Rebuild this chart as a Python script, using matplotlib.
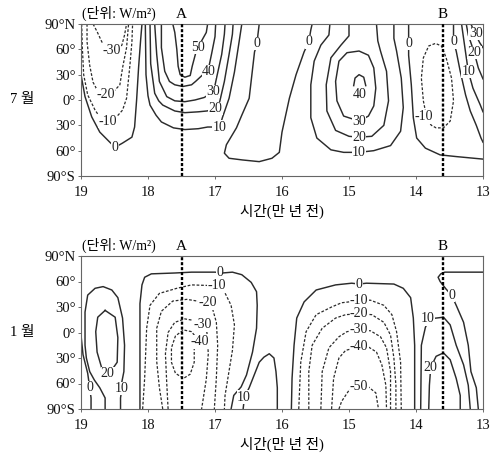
import matplotlib
matplotlib.use("Agg")
import matplotlib.pyplot as plt

plt.rcParams['font.family'] = ['Liberation Serif', 'Noto Sans CJK KR']

# time axis: 10^4 years ago, latitude axis: degrees (N positive)
time_ticks = [19, 18, 17, 16, 15, 14, 13]
lat_ticks = [-90, -60, -30, 0, 30, 60, 90]
lat_labels = ['90°S', '60°', '30°', '0°', '30°', '60°', '90°N']
marker_a = 17.5
marker_b = 13.6

# ---- July contours (time, latitude) ----
jul_m30 = ([18.82, 18.76, 18.69, 18.64, 18.54, 18.45, 18.39, 18.35, 18.32],
           [90, 81, 69, 62, 58, 60, 65, 77, 90])
jul_m20 = ([18.91, 18.91, 18.87, 18.82, 18.76, 18.63, 18.49, 18.42, 18.38, 18.32, 18.30, 18.29],
           [90, 69, 41, 21, 12, 6, 12, 18, 38, 62, 81, 90])
jul_m10 = ([18.99, 18.98, 18.96, 18.90, 18.79, 18.72, 18.60, 18.47, 18.38, 18.32, 18.27, 18.24, 18.23],
           [90, 62, 30, 6, -12, -20, -25, -20, -12, 2, 41, 69, 90])
jul_0a = ([19.0, 18.94, 18.84, 18.72, 18.57, 18.49, 18.38, 18.24, 18.20, 18.17, 18.14, 18.11, 18.09],
          [30, 4, -20, -38, -50, -56, -51, -44, -32, 0, 39, 71, 90])
jul_p10a = ([18.04, 18.03, 18.00, 17.97, 17.88, 17.80, 17.62, 17.45, 17.25, 17.11, 16.93, 16.89, 16.79, 16.71, 16.64, 16.60],
            [90, 30, 5, -6, -18, -26, -33, -35, -34, -32, -32, -21, 2, 33, 69, 90])
jul_p20a = ([17.97, 17.96, 17.90, 17.84, 17.78, 17.60, 17.45, 17.25, 17.12, 16.98, 16.93, 16.86, 16.79, 16.74, 16.73],
            [90, 43, 8, -1, -6, -13, -15, -14, -13, -10, -2, 22, 54, 78, 90])
jul_p30a = ([17.90, 17.87, 17.83, 17.72, 17.60, 17.45, 17.30, 17.16, 17.02, 16.98, 16.90, 16.86, 16.85],
            [90, 54, 22, 4, -1, -2, 0, 3, 10, 25, 54, 78, 90])
jul_p40a = ([17.80, 17.80, 17.75, 17.68, 17.60, 17.48, 17.35, 17.29, 17.10, 17.05, 17.00, 16.99],
            [90, 62, 34, 22, 18, 16, 18, 22, 36, 55, 75, 90])
jul_p50a = ([17.63, 17.60, 17.57, 17.55, 17.52, 17.45, 17.37, 17.34, 17.28, 17.20, 17.13, 17.11],
            [90, 80, 60, 40, 30, 27, 29, 40, 58, 70, 80, 90])
jul_0b = ([16.34, 16.36, 16.37, 16.41, 16.49, 16.60, 16.68, 16.83, 16.86, 16.79, 16.59, 16.34,
           16.15, 16.04, 16.00, 15.89, 15.79, 15.67, 15.60, 15.57, 15.55],
          [90, 77, 67, 57, 2, -18, -33, -53, -63, -69, -71, -73, -69, -62, -38, 2, 30, 57, 69, 83, 90])
jul_p10b = ([15.285, 15.30, 15.42, 15.52, 15.57, 15.57, 15.48, 15.27, 15.08, 14.85, 14.63, 14.38,
             14.23, 14.19, 14.22, 14.29, 14.33, 14.33],
            [90, 77, 65, 46, 18, -21, -45, -59, -62, -62, -60, -54, -37, -9, 26, 58, 73, 90])
jul_p20b = ([15.0, 15.0, 15.12, 15.27, 15.34, 15.33, 15.20, 15.0, 14.85, 14.66, 14.48, 14.41, 14.44, 14.53, 14.57, 14.59],
            [90, 76, 65, 50, 18, -13, -36, -43, -44, -43, -30, -1, 34, 58, 70, 90])
jul_p30b = ([14.85, 15.08, 15.18, 15.20, 15.15, 15.03, 14.85, 14.71, 14.63, 14.60, 14.63, 14.71, 14.85],
            [-25, -19, -1, 22, 46, 56, 58, 53, 38, 14, -7, -19, -25])
jul_p40b = ([14.93, 14.91, 14.85, 14.78, 14.75],
            [17, 26, 30, 27, 17])
jul_0c = ([14.11, 14.11, 14.11, 14.07, 14.04, 13.99, 13.86, 13.64, 13.40, 13.0],
          [90, 67, 53, 18, -21, -45, -57, -65, -67, -70])
jul_m10b = ([13.87, 13.77, 13.70, 13.59, 13.49, 13.44, 13.47, 13.55, 13.62, 13.71, 13.81, 13.89, 13.92, 13.89, 13.86, 13.87],
            [-20, -30, -33, -33, -25, -1, 26, 50, 64, 67, 64, 50, 26, -1, -13, -20])
jul_0d = ([13.44, 13.44, 13.40, 13.34, 13.26, 13.19, 13.10, 13.03, 13.0],
          [90, 69, 58, 34, 6, -13, -30, -45, -50])
jul_p10c = ([13.32, 13.29, 13.22, 13.15, 13.04, 13.0],
            [90, 73, 34, 14, -6, -14])
jul_p20c = ([13.25, 13.22, 13.13, 13.07, 13.0],
            [90, 77, 56, 38, 25])
jul_p30c = ([13.18, 13.12, 13.05, 13.0],
            [90, 79, 68, 62])

# ---- January contours ----
jan_0a = ([19.0, 18.97, 18.90, 18.87, 18.85, 18.85],
          [-3, -26, -48, -65, -77, -90])
jan_p10a = ([18.64, 18.64, 18.72, 18.80, 18.87, 18.92, 18.94, 18.94, 18.90, 18.79, 18.67, 18.54,
             18.45, 18.38, 18.35, 18.36, 18.39, 18.39, 18.41, 18.41],
            [-90, -77, -65, -56, -46, -30, -15, 24, 44, 52, 54, 50, 41, 17, -15, -46, -58, -66, -77, -90])
jan_p20a = ([18.64, 18.49, 18.45, 18.46, 18.54, 18.60, 18.69, 18.76, 18.78, 18.75, 18.64],
            [26, 18, -6, -35, -44, -48, -42, -23, 1, 18, 26])
jan_0b = ([18.12, 18.12, 18.12, 18.12, 18.09, 18.05, 17.95, 17.60, 17.35, 17.0, 16.89, 16.74, 16.60,
           16.46, 16.38, 16.37, 16.38, 16.44, 16.53, 16.61, 16.72, 16.76],
          [-90, -62, -15, 34, 56, 65, 69, 70, 71, 71, 70, 71, 68, 59, 48, 32, 5, -23, -50, -64, -74, -90])
jan_p10b = ([16.58, 16.56, 16.49, 16.40, 16.34, 16.27, 16.19, 16.12, 16.09, 16.07, 16.07],
            [-90, -76, -65, -47, -35, -29, -25, -30, -46, -65, -90])
jan_m10a = ([18.08, 18.05, 18.02, 17.97, 17.83, 17.57, 17.35, 16.98, 16.86, 16.76, 16.71, 16.74, 16.80, 16.85, 16.86],
            [-90, -54, 5, 32, 46, 52, 56, 55, 48, 32, 9, -21, -50, -74, -90])
jan_m20a = ([17.78, 17.83, 17.87, 17.87, 17.80, 17.63, 17.42, 17.11, 17.04, 16.98, 16.96, 16.98, 17.01],
            [-90, -65, -34, 5, 25, 37, 39, 35, 29, 12, -15, -54, -90])
jan_m30a = ([17.70, 17.72, 17.74, 17.70, 17.60, 17.45, 17.30, 17.19, 17.12, 17.10, 17.13, 17.17, 17.20],
            [-90, -60, -25, 0, 12, 16, 14, 9, 0, -25, -55, -75, -90])
jan_m40a = ([17.35, 17.47, 17.59, 17.65, 17.65, 17.59, 17.47, 17.37, 17.31, 17.31, 17.24, 17.35],
            [1, 3, -4, -18, -35, -48, -54, -49, -35, -18, -10, 1])
jan_0c = ([15.86, 15.85, 15.82, 15.78, 15.67, 15.49, 15.20, 14.96, 14.85, 14.74, 14.33, 14.19, 14.08, 14.04, 14.02, 14.02, 14.02],
          [-90, -54, -15, 17, 36, 50, 56, 58, 57, 58, 57, 52, 41, 17, -15, -54, -90])
jan_m10b = ([15.75, 15.72, 15.64, 15.49, 15.26, 15.11, 15.0, 14.85, 14.68, 14.48, 14.36, 14.29, 14.23, 14.22],
            [-90, -35, 1, 21, 30, 35, 36, 38, 38, 32, 21, 1, -35, -90])
jan_m20b = ([15.60, 15.60, 15.55, 15.40, 15.20, 15.05, 14.85, 14.66, 14.48, 14.38, 14.33, 14.30, 14.30],
            [-90, -46, -15, 5, 17, 21, 22, 21, 12, -3, -30, -62, -90])
jan_m30b = ([15.42, 15.40, 15.30, 15.15, 15.03, 14.85, 14.68, 14.53, 14.44, 14.38, 14.38],
            [-90, -46, -18, -5, 1, 3, 2, -5, -18, -46, -90])
jan_m40b = ([15.26, 15.23, 15.15, 15.05, 14.85, 14.71, 14.59, 14.51, 14.45, 14.44],
            [-90, -54, -30, -21, -17, -17, -23, -38, -62, -90])
jan_m50b = ([15.15, 15.11, 15.0, 14.85, 14.71, 14.60, 14.56],
            [-90, -81, -68, -63, -64, -71, -90])
jan_p10c = ([13.93, 13.92, 13.86, 13.80, 13.59, 13.49, 13.40, 13.29, 13.22, 13.19],
            [-90, -15, 6, 16, 18, 9, -15, -38, -62, -90])
jan_p20c = ([13.81, 13.80, 13.78, 13.70, 13.59, 13.49, 13.40, 13.34, 13.34],
            [-90, -62, -41, -28, -24, -32, -54, -74, -90])
jan_0d = ([13.0, 13.30, 13.57, 13.63, 13.67, 13.64, 13.55, 13.47, 13.40, 13.29, 13.22, 13.18, 13.10, 13.07],
          [71, 71, 71, 69, 65, 60, 51, 44, 32, 12, -15, -46, -65, -90])

july = [
    (-30, jul_m30, [(18.54, 59)]),
    (-20, jul_m20, [(18.63, 6)]),
    (-10, jul_m10, [(18.60, -25)]),
    (0, jul_0a, [(18.49, -56)]),
    (10, jul_p10a, [(16.93, -32)]),
    (20, jul_p20a, [(16.99, -10)]),
    (30, jul_p30a, [(17.03, 10)]),
    (40, jul_p40a, [(17.09, 34)]),
    (50, jul_p50a, [(17.26, 62)]),
    (0, jul_0b, [(16.37, 67), (15.60, 69)]),
    (10, jul_p10b, [(14.85, -62)]),
    (20, jul_p20b, [(14.85, -44)]),
    (30, jul_p30b, [(14.85, -25)]),
    (40, jul_p40b, [(14.84, 6)]),
    (0, jul_0c, [(14.11, 67)]),
    (-10, jul_m10b, [(13.88, -20)]),
    (0, jul_0d, [(13.44, 69)]),
    (10, jul_p10c, [(13.22, 34)]),
    (20, jul_p20c, [(13.13, 56)]),
    (30, jul_p30c, [(13.11, 79)]),
]

january = [
    (0, jan_0a, [(18.87, -65)]),
    (10, jan_p10a, [(18.39, -66)]),
    (20, jan_p20a, [(18.60, -48)]),
    (0, jan_0b, [(16.93, 70)]),
    (10, jan_p10b, [(16.57, -76)]),
    (-10, jan_m10a, [(16.98, 55)]),
    (-20, jan_m20a, [(17.11, 35)]),
    (-30, jan_m30a, [(17.19, 9)]),
    (-40, jan_m40a, [(17.23, -11)]),
    (0, jan_0c, [(14.85, 57)]),
    (-10, jan_m10b, [(14.85, 38)]),
    (-20, jan_m20b, [(14.85, 22)]),
    (-30, jan_m30b, [(14.85, 3)]),
    (-40, jan_m40b, [(14.85, -17)]),
    (-50, jan_m50b, [(14.85, -63)]),
    (10, jan_p10c, [(13.82, 16)]),
    (20, jan_p20c, [(13.78, -41)]),
    (0, jan_0d, [(13.47, 44)]),
]

line_color = '#2b2b2b'

fig = plt.figure(figsize=(4.92, 4.57), dpi=100)
ax1 = fig.add_axes([81 / 492, 1 - 176 / 457, 402 / 492, 152 / 457])
ax2 = fig.add_axes([81 / 492, 1 - 409 / 457, 402 / 492, 153 / 457])


def draw_panel(ax, contours, month):
    for value, (t, lat), labels in contours:
        if value < 0:
            ax.plot(t, lat, color=line_color, lw=0.9, linestyle=(0, (2.2, 1.4)))
        else:
            ax.plot(t, lat, color=line_color, lw=1.05)
        for lt, ll in labels:
            ax.text(lt, ll, str(value), ha='center', va='center', fontsize=10,
                    color='#222222', zorder=4,
                    bbox=dict(fc='white', ec='none', pad=0.2))

    for xm, name in [(marker_a, 'A'), (marker_b, 'B')]:
        ax.plot([xm, xm], [-90, 90], color='black', lw=1.7, linestyle=(0, (1.3, 0.8)), zorder=5)
        ax.text(xm, 101, name, ha='center', va='center', fontsize=11, clip_on=False)

    ax.text(18.98, 102, '(단위: W/m²)', ha='left', va='center', fontsize=10, clip_on=False)

    ax.set_xlim(19, 13)
    ax.set_ylim(-90, 90)
    ax.set_xticks(time_ticks)
    ax.set_xticklabels([str(v) for v in time_ticks])
    ax.set_yticks(lat_ticks)
    ax.set_yticklabels(lat_labels)
    ax.tick_params(axis='both', direction='out', length=2.5, width=0.6, colors='#555555',
                   labelcolor='#111111', labelsize=10.5)
    ax.tick_params(axis='x', pad=4.5)
    ax.tick_params(axis='y', pad=1.5)
    for s in ax.spines.values():
        s.set_color('#666666')
        s.set_linewidth(0.8)
    ax.set_xlabel('시간(만 년 전)', fontsize=10.5, labelpad=4)
    ax.set_ylabel(month, fontsize=10.5, rotation=0, ha='center', va='center', labelpad=16)


draw_panel(ax1, july, '7 월')
draw_panel(ax2, january, '1 월')

fig.savefig('out.png', dpi=100)
